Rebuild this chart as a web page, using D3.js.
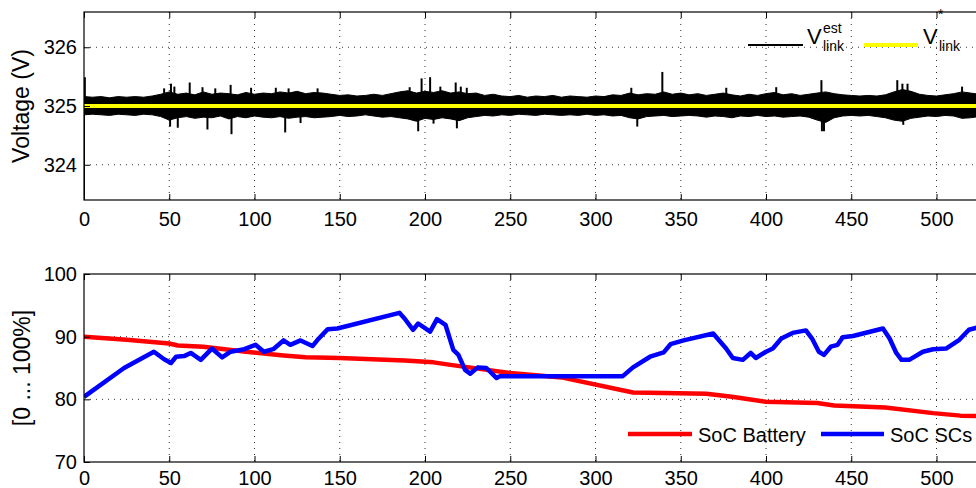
<!DOCTYPE html>
<html>
<head>
<meta charset="utf-8">
<script src="https://cdn.jsdelivr.net/npm/d3@7"></script>
<style>
  body { margin: 0; background: #fff; }
  text { font-family: "Liberation Sans", Arial, Helvetica, sans-serif; fill: #000; }
</style>
</head>
<body>
<svg id="chart" width="976" height="488"></svg>
<script>
'use strict';

// ---- data ----
const xTicks = [0, 50, 100, 150, 200, 250, 300, 350, 400, 450, 500];
const voltTicks = [324, 325, 326];
const socTicks = [70, 80, 90, 100];
const vRef = 325;

// DC-link voltage estimate: envelope of the noisy trace, sampled every 5 s
const vStep = 5;
const vHigh = [
  325.16, 325.15, 325.16, 325.14, 325.16, 325.15, 325.16, 325.15, 325.17, 325.20,
  325.24, 325.20, 325.22, 325.19, 325.24, 325.20, 325.22, 325.21, 325.19, 325.23,
  325.20, 325.22, 325.21, 325.24, 325.22, 325.25, 325.21, 325.23, 325.22, 325.20,
  325.18, 325.19, 325.17, 325.18, 325.20, 325.18, 325.21, 325.24, 325.26, 325.22,
  325.25, 325.23, 325.26, 325.22, 325.24, 325.21, 325.22, 325.18, 325.20, 325.17,
  325.16, 325.18, 325.15, 325.17, 325.16, 325.18, 325.15, 325.17, 325.16, 325.15,
  325.17, 325.16, 325.19, 325.18, 325.22, 325.19, 325.21, 325.20, 325.24, 325.20,
  325.22, 325.19, 325.21, 325.18, 325.20, 325.22, 325.19, 325.17, 325.20, 325.18,
  325.21, 325.23, 325.19, 325.21, 325.18, 325.20, 325.22, 325.24, 325.21, 325.19,
  325.18, 325.17, 325.18, 325.17, 325.19, 325.24, 325.28, 325.25, 325.20, 325.18,
  325.17, 325.19, 325.21, 325.24, 325.22, 325.20, 325.21, 325.19, 325.20
];
const vLow = [
  324.85, 324.86, 324.85, 324.84, 324.86, 324.85, 324.84, 324.86, 324.85, 324.82,
  324.76, 324.80, 324.82, 324.79, 324.81, 324.80, 324.83, 324.78, 324.82, 324.80,
  324.83, 324.81, 324.80, 324.82, 324.79, 324.81, 324.82, 324.80, 324.81, 324.82,
  324.84, 324.82, 324.83, 324.85, 324.83, 324.81, 324.82, 324.80, 324.78, 324.74,
  324.79, 324.77, 324.80, 324.78, 324.75, 324.80, 324.82, 324.84, 324.83, 324.85,
  324.84, 324.86, 324.85, 324.84, 324.86, 324.85, 324.84, 324.85, 324.84, 324.86,
  324.84, 324.85, 324.83, 324.84, 324.80, 324.78, 324.82, 324.83, 324.84, 324.82,
  324.83, 324.84, 324.83, 324.81, 324.83, 324.82, 324.80, 324.83, 324.82, 324.84,
  324.82, 324.83, 324.81, 324.82, 324.83, 324.81, 324.76, 324.72, 324.80, 324.83,
  324.84, 324.83, 324.84, 324.82, 324.80, 324.76, 324.74, 324.79, 324.81, 324.83,
  324.82, 324.84, 324.83, 324.79, 324.80, 324.82, 324.81, 324.83, 324.82
];
// isolated spikes of the voltage trace [time, value]
const vSpikes = [
  [0, 323.0], [0.5, 325.49], [47, 325.30], [50.5, 324.65], [51, 325.38], [53, 325.33],
  [55, 324.63], [62, 325.40], [69.5, 325.32], [72.4, 324.60], [77, 325.30], [86, 325.36],
  [86.5, 324.52], [98, 325.31], [112.5, 325.31], [118, 324.55], [120, 325.30], [127, 324.71],
  [137, 325.30], [191, 325.32], [196, 324.57], [198, 325.47], [203, 325.49], [205, 324.70],
  [209, 325.33], [218, 325.40], [218.7, 324.62], [221, 325.33], [224.5, 325.31], [321, 325.31],
  [324.5, 324.65], [339.2, 325.58], [376.7, 325.31], [406, 325.32], [432.5, 325.44],
  [432.8, 324.57], [434, 324.57], [477, 325.44], [480, 325.38], [480.5, 324.68],
  [483, 325.38], [515, 325.33]
];

// state of charge, battery
const batTime = [0, 25, 50, 55, 70, 95, 117, 130, 150, 188, 205, 215, 250, 280, 322, 340, 365, 380, 400, 430, 440, 470, 498, 514, 540];
const batSoc = [90.0, 89.5, 88.9, 88.6, 88.4, 87.6, 87.0, 86.7, 86.6, 86.2, 85.9, 85.5, 84.2, 83.5, 81.1, 81.0, 80.9, 80.4, 79.6, 79.4, 79.0, 78.7, 77.8, 77.4, 77.2];

// state of charge, supercapacitors
const scTime = [
  0, 23.5, 41, 47, 51, 54, 58.7, 62.6, 68.5, 75, 81, 86, 94, 100.6, 105.5, 111, 117, 121, 127, 134,
  137, 143, 148.6, 185, 188, 193, 196, 203, 207, 212, 216.6, 219.6, 223.5, 226.5, 231, 236, 242, 244,
  316, 322, 332, 340, 344, 351.7, 369, 376.6, 380.5, 386.4, 391, 394, 400, 404, 409, 415.6, 423.4,
  427, 431, 434, 438, 442, 445, 451, 468.6, 472.5, 476.4, 479.5, 484, 492, 498, 505.6, 513.4, 519,
  523, 530
];
const scSoc = [
  80.4, 85.0, 87.6, 86.4, 85.8, 86.8, 86.9, 87.4, 86.3, 88.1, 86.7, 87.6, 88.0, 88.7, 87.6, 88.0, 89.4, 88.7, 89.4, 88.5,
  89.5, 91.2, 91.3, 93.8, 92.9, 91.1, 92.1, 90.8, 92.8, 91.9, 87.9, 87.1, 84.7, 84.1, 85.1, 85.0, 83.4, 83.7,
  83.7, 85.1, 86.8, 87.5, 88.8, 89.4, 90.5, 88.1, 86.6, 86.3, 87.4, 86.6, 87.6, 88.1, 89.7, 90.6, 91.0,
  89.7, 87.6, 87.1, 88.4, 88.7, 89.9, 90.1, 91.3, 89.7, 87.4, 86.3, 86.3, 87.6, 88.0, 88.1, 89.5, 91.1,
  91.4, 91.8
];

// ---- layout ----
const svg = d3.select('#chart');
const left = 84;
const right = 1107;   // axes run past the cropped picture edge
const top1 = 12, bottom1 = 200;
const top2 = 274, bottom2 = 462;
const tickLen = 6;

const xScale = d3.scaleLinear().domain([0, 600]).range([left, right]);
const yVolt = d3.scaleLinear().domain([323.4, 326.6]).range([bottom1, top1]);
const ySoc = d3.scaleLinear().domain([70, 100]).range([bottom2, top2]);

function drawFrame(id, y, top, bottom, yTicks) {
  const g = svg.append('g');

  svg.append('clipPath').attr('id', id)
    .append('rect')
    .attr('x', left).attr('y', top)
    .attr('width', right - left).attr('height', bottom - top);

  // dotted grid
  g.selectAll('.gx').data(xTicks.filter(d => d > 0)).enter()
    .append('line')
    .attr('x1', d => xScale(d)).attr('x2', d => xScale(d))
    .attr('y1', top).attr('y2', bottom)
    .attr('stroke', '#000').attr('stroke-width', 0.8)
    .attr('stroke-dasharray', '1,5');
  g.selectAll('.gy').data(yTicks.filter(d => y(d) > top + 1 && y(d) < bottom - 1)).enter()
    .append('line')
    .attr('x1', left).attr('x2', right)
    .attr('y1', d => y(d)).attr('y2', d => y(d))
    .attr('stroke', '#000').attr('stroke-width', 0.8)
    .attr('stroke-dasharray', '1,5');

  return g;
}

function drawAxes(y, top, bottom, yTicks, pad) {
  const fontSize = 20;

  const xb = svg.append('g')
    .attr('transform', `translate(0,${bottom})`)
    .call(d3.axisBottom(xScale).tickValues(xTicks).tickSize(-tickLen).tickSizeOuter(0).tickPadding(pad));
  xb.selectAll('text').attr('font-size', fontSize).attr('dy', '0.72em');

  svg.append('g')
    .attr('transform', `translate(0,${top})`)
    .call(d3.axisTop(xScale).tickValues(xTicks).tickSize(-tickLen).tickSizeOuter(0).tickFormat(''));

  const yl = svg.append('g')
    .attr('transform', `translate(${left},0)`)
    .call(d3.axisLeft(y).tickValues(yTicks).tickSize(-tickLen).tickSizeOuter(0)
      .tickPadding(7).tickFormat(d3.format('d')));
  yl.selectAll('text').attr('font-size', fontSize);

  svg.selectAll('.domain').remove();
  svg.selectAll('.tick line').attr('stroke', '#000');
  svg.selectAll('.tick text').attr('font-family', '"Liberation Sans", Arial, sans-serif');

  svg.append('rect')
    .attr('x', left).attr('y', top)
    .attr('width', right - left).attr('height', bottom - top)
    .attr('fill', 'none').attr('stroke', '#000').attr('stroke-width', 1.2);
}

// ---- top panel: DC-link voltage ----
drawFrame('clipTop', yVolt, top1, bottom1, voltTicks);

const vData = vHigh.map((h, i) => ({ t: i * vStep, hi: h, lo: vLow[i] }));
const plotTop = svg.append('g').attr('clip-path', 'url(#clipTop)');

plotTop.append('path')
  .datum(vData)
  .attr('fill', '#000')
  .attr('stroke', '#000')
  .attr('stroke-width', 1)
  .attr('d', d3.area()
    .x(d => xScale(d.t))
    .y0(d => yVolt(d.lo))
    .y1(d => yVolt(d.hi)));

plotTop.selectAll('.spike').data(vSpikes).enter()
  .append('line')
  .attr('x1', d => xScale(d[0])).attr('x2', d => xScale(d[0]))
  .attr('y1', yVolt(vRef)).attr('y2', d => yVolt(d[1]))
  .attr('stroke', '#000').attr('stroke-width', 2);

plotTop.append('line')
  .attr('x1', xScale(0)).attr('x2', xScale(600))
  .attr('y1', yVolt(vRef)).attr('y2', yVolt(vRef))
  .attr('stroke', '#ffff00').attr('stroke-width', 4);

drawAxes(yVolt, top1, bottom1, voltTicks, 12);

svg.append('text')
  .attr('transform', `translate(29,${(top1 + bottom1) / 2}) rotate(-90)`)
  .attr('text-anchor', 'middle')
  .attr('font-size', 23)
  .text('Voltage (V)');

// legend, top
const lgTop = svg.append('g');
lgTop.append('line').attr('x1', 748).attr('x2', 803).attr('y1', 45).attr('y2', 45)
  .attr('stroke', '#000').attr('stroke-width', 2);
lgTop.append('text').attr('x', 807).attr('y', 44).attr('font-size', 22).text('V');
lgTop.append('text').attr('x', 823).attr('y', 33).attr('font-size', 14).text('est');
lgTop.append('text').attr('x', 823).attr('y', 51).attr('font-size', 14).text('link');
lgTop.append('line').attr('x1', 864).attr('x2', 918).attr('y1', 45).attr('y2', 45)
  .attr('stroke', '#ffff00').attr('stroke-width', 4);
lgTop.append('text').attr('x', 923).attr('y', 44).attr('font-size', 22).text('V');
lgTop.append('text').attr('x', 938).attr('y', 19).attr('font-size', 14).text('*');
lgTop.append('text').attr('x', 939).attr('y', 51).attr('font-size', 14).text('link');

// ---- bottom panel: state of charge ----
drawFrame('clipBot', ySoc, top2, bottom2, socTicks);

const plotBot = svg.append('g').attr('clip-path', 'url(#clipBot)');
const socLine = d3.line().x(d => xScale(d[0])).y(d => ySoc(d[1]));

plotBot.append('path')
  .datum(batTime.map((t, i) => [t, batSoc[i]]))
  .attr('fill', 'none')
  .attr('stroke', '#ff0000')
  .attr('stroke-width', 4.5)
  .attr('stroke-linejoin', 'round')
  .attr('d', socLine);

plotBot.append('path')
  .datum(scTime.map((t, i) => [t, scSoc[i]]))
  .attr('fill', 'none')
  .attr('stroke', '#0000ff')
  .attr('stroke-width', 4.5)
  .attr('stroke-linejoin', 'round')
  .attr('d', socLine);

drawAxes(ySoc, top2, bottom2, socTicks, 9);

svg.append('text')
  .attr('transform', `translate(30,${(top2 + bottom2) / 2}) rotate(-90)`)
  .attr('text-anchor', 'middle')
  .attr('font-size', 23)
  .text('[0 ... 100%]');

// legend, bottom (nudged left so the last label stays inside the picture)
const lgBot = svg.append('g');
lgBot.append('line').attr('x1', 628).attr('x2', 692).attr('y1', 434).attr('y2', 434)
  .attr('stroke', '#ff0000').attr('stroke-width', 4.5);
lgBot.append('text').attr('x', 698).attr('y', 442).attr('font-size', 20).text('SoC Battery');
lgBot.append('line').attr('x1', 821).attr('x2', 884).attr('y1', 434).attr('y2', 434)
  .attr('stroke', '#0000ff').attr('stroke-width', 4.5);
lgBot.append('text').attr('x', 890).attr('y', 442).attr('font-size', 20).text('SoC SCs');
</script>
</body>
</html>
